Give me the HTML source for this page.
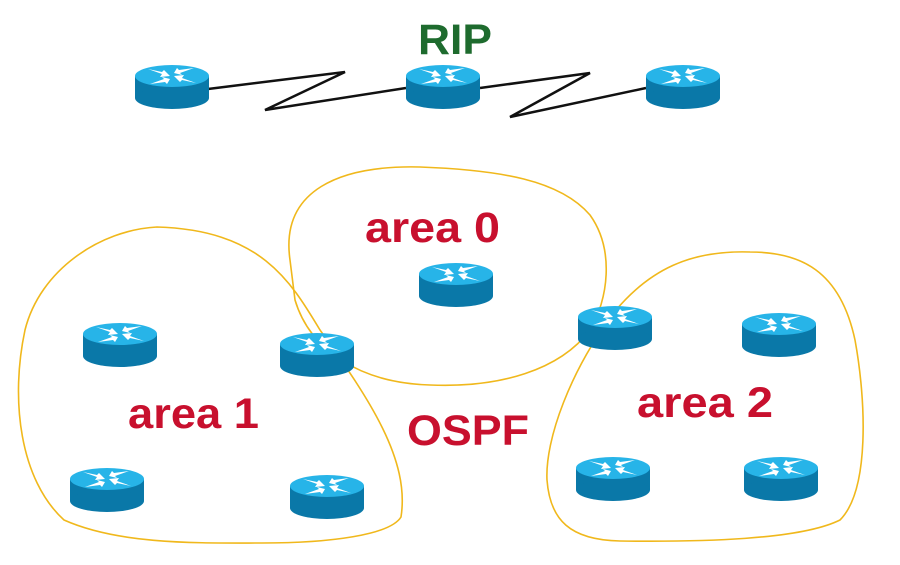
<!DOCTYPE html>
<html><head><style>html,body{margin:0;padding:0;background:#fff;}svg{display:block}</style></head>
<body>
<svg width="900" height="565" viewBox="0 0 900 565" xmlns="http://www.w3.org/2000/svg">
<defs>
<g id="r">
  <rect x="-37" y="0" width="74" height="22" fill="#0a78a8"/>
  <ellipse cx="0" cy="22" rx="37" ry="11" fill="#0a78a8"/>
  <ellipse cx="0" cy="0" rx="37" ry="11" fill="#27b4e8"/>
  <g fill="#fff">
    <polygon points="-24,-7 -10,-2 -12,1 -2,0 -8,-6 -10,-4"/>
    <polygon points="24,7 10,2 12,-1 2,0 8,6 10,4"/>
    <polygon points="22,-8 8,-3 10,-1 2,-3 5,-8 7,-6"/>
    <polygon points="-22,8 -8,3 -10,1 -2,3 -5,8 -7,6"/>
  </g>
</g>
</defs>
<g fill="none" stroke="#f0b81c" stroke-width="1.6">
<path d="M 290,260 C 280,190 340,165 420,167 C 500,170 560,180 590,215 C 615,250 608,300 590,330 C 560,370 500,388 430,385 C 360,383 310,350 295,300 Z"/>
<path d="M 157,227 C 100,230 40,270 25,330 C 10,400 20,480 64,520 C 120,545 200,543 262,543 C 330,543 390,535 401,517 C 410,460 370,400 320,330 C 290,280 260,230 157,227 Z"/>
<path d="M 750,252 C 690,250 650,270 616,310 C 570,370 545,440 547,480 C 550,520 570,540 620,541 C 700,542 800,540 840,520 C 870,490 866,400 855,340 C 840,270 800,252 750,252 Z"/>
</g>
<g fill="none" stroke="#111" stroke-width="2.5">
<polyline points="208,89 345,72 265,110 406,88"/>
<polyline points="480,88 590,73 510,117 646,88"/>
</g>
<use href="#r" x="172" y="76"/>
<use href="#r" x="443" y="76"/>
<use href="#r" x="683" y="76"/>
<use href="#r" x="456" y="274"/>
<use href="#r" x="120" y="334"/>
<use href="#r" x="317" y="344"/>
<use href="#r" x="107" y="479"/>
<use href="#r" x="327" y="486"/>
<use href="#r" x="615" y="317"/>
<use href="#r" x="779" y="324"/>
<use href="#r" x="613" y="468"/>
<use href="#r" x="781" y="468"/>
<g font-family="Liberation Sans, sans-serif" font-weight="bold" font-size="43">
<text x="418" y="54" fill="#1e6b2e" textLength="74" lengthAdjust="spacingAndGlyphs">RIP</text>
<g fill="#c8102e">
<text x="365" y="242" textLength="135" lengthAdjust="spacingAndGlyphs">area 0</text>
<text x="128" y="428" textLength="131" lengthAdjust="spacingAndGlyphs">area 1</text>
<text x="407" y="445" textLength="122" lengthAdjust="spacingAndGlyphs">OSPF</text>
<text x="637" y="417" textLength="136" lengthAdjust="spacingAndGlyphs">area 2</text>
</g>
</g>
</svg>
</body></html>
